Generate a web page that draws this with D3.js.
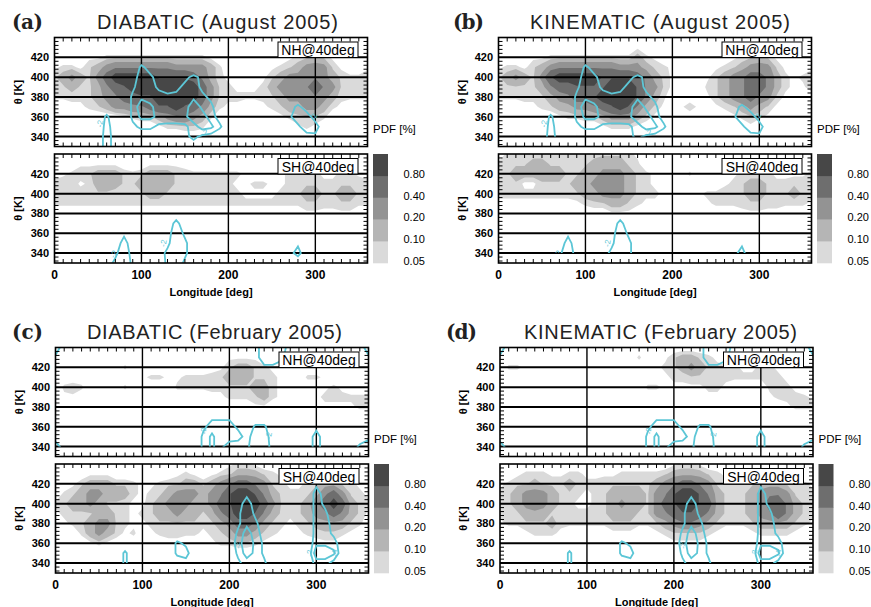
<!DOCTYPE html>
<html>
<head>
<meta charset="utf-8">
<script src="https://cdn.jsdelivr.net/npm/d3@7"></script>
<style>
  body { margin: 0; background: #fff; }
  svg { display: block; }
  .tick-label { font-family: 'Liberation Sans', Arial, sans-serif; font-weight: bold; font-size: 11px; fill: #000; }
  .axis-title { font-family: 'Liberation Sans', Arial, sans-serif; font-weight: bold; font-size: 11px; fill: #000; }
  .box-label { font-family: 'Liberation Sans', Arial, sans-serif; font-size: 14px; fill: #000; }
  .legend-text { font-family: 'Liberation Sans', Arial, sans-serif; font-size: 11px; fill: #000; }
  .panel-tag { font-family: 'DejaVu Serif', serif; font-weight: bold; font-size: 20px; fill: #222; }
  .panel-title { font-family: 'Liberation Sans', Arial, sans-serif; font-size: 20px; fill: #222; }
  .q-label { font-family: 'Liberation Sans', Arial, sans-serif; font-size: 8px; fill: #5cc6d6; }
</style>
</head>
<body>
<svg id="chart" width="871" height="607"></svg>
<script>
// grid axes: rows run from THETA[0] (top) downwards, columns are LON
const LON = d3.range(0, 361, 10);
const THETA = [440, 430, 420, 410, 400, 390, 380, 370, 360, 350, 340, 330];
const X_TICKS = [0, 100, 200, 300];
const Y_TICKS = [340, 360, 380, 400, 420];

// PDF [%]: one digit per grid cell, digit -> value
const PDF_CODES = [0, 0.035, 0.065, 0.09, 0.14, 0.25, 0.35, 0.55, 0.75, 1.1];
const PDF_LEVELS = [0.05, 0.1, 0.2, 0.4, 0.8];
const PDF_LABELS = ['0.05', '0.10', '0.20', '0.40', '0.80'];
const GRAY_COLORS = ['#dadada', '#b5b5b5', '#939393', '#6e6e6e', '#474747'];

// heating rate [K/day]: hex digit h -> -h/2
const HEATING_LEVELS = [-2, -4];

const AUG_DIA_NH = [
  "0000000000 0000000000 0000000000 0000000",
  "0000000000 0000000000 0000000000 0000000",
  "0000112222 2222222210 0000000123 4310000",
  "1221345666 6666555542 0000012345 5531001",
  "3454357999 9988887642 1000134555 6543223",
  "3343346789 9999999753 2111245556 8653223",
  "2222345677 8899999753 2222234555 6542222",
  "0011234556 6788987642 1100123445 5421000",
  "0000000012 3345665420 0000001233 3200000",
  "0000000000 0012233200 0000000012 1000000",
  "0000000000 0000000000 0000000000 0000000",
  "0000000000 0000000000 0000000000 0000000"
];
const AUG_DIA_SH = [
  "0000000000 0000000000 0000000000 0000000",
  "0001111100 0111110000 0000000000 0000000",
  "0123344432 3444322222 2210001222 2112210",
  "3331244433 4444333222 2112211233 3223333",
  "3333333223 3443333333 3211112334 4334433",
  "2222222222 2222222222 2222222223 3223322",
  "0000000000 0000000000 0000000001 1111100",
  "0000000000 0000000000 0000000000 0000000",
  "0000000000 0000000000 0000000000 0000000",
  "0000000000 0000000000 0000000000 0000000",
  "0000000000 0000000000 0000000000 0000000",
  "0000000000 0000000000 0000000000 0000000"
];
const AUG_KIN_NH = [
  "0000000000 0000000000 0000000000 0000000",
  "0000000000 0000001000 0000000000 0000000",
  "0000112222 2222224210 0000000123 4310000",
  "1221345666 6666555432 1000012345 5531001",
  "3454358999 9988887643 1000134567 7642123",
  "3333346778 8889998653 1000234567 7642113",
  "2222234567 7899998642 0000134567 6531000",
  "0001123445 5678986431 0131012345 4310000",
  "0000000122 3345554310 0000000123 2100000",
  "0000000000 0012221000 0000000001 0000000",
  "0000000000 0000000000 0000000000 0000000",
  "0000000000 0000000000 0000000000 0000000"
];
const AUG_KIN_SH = [
  "0222222222 2233321000 0000000000 0000000",
  "2333443333 3444432000 0000000000 0000001",
  "3344444433 4455543210 0020000122 2211112",
  "3331133334 4555543210 0000001234 4322333",
  "2222222223 4455543221 1111223334 4333432",
  "1111111111 2334432111 1111122223 3222221",
  "0000000000 0001110000 0000000011 1110000",
  "0000000000 0000000000 0000000000 0000000",
  "0000000000 0000000000 0000000000 0000000",
  "0000000000 0000000000 0000000000 0000000",
  "0000000000 0000000000 0000000000 0000000",
  "0000000000 0000000000 0000000000 0000000"
];
const FEB_DIA_NH = [
  "0000000000 0000000000 0000000000 0000000",
  "0000000000 0000000000 1111000000 0000000",
  "0000000020 0000000001 3443210000 0000000",
  "0000000000 1221122233 4443321002 2100000",
  "0232000020 0000222222 3334421000 0121000",
  "0110000000 0000000011 2223421000 1222222",
  "0000000000 0000000000 0001100000 0111122",
  "0000000000 0000000000 0000000000 0000000",
  "0000000000 0000000000 0000000000 0000000",
  "0000000000 0000000000 0000000000 0000000",
  "0000000000 0000000000 0000000000 0000000",
  "0000000000 0000000000 0000000000 0000000"
];
const FEB_DIA_SH = [
  "0000000000 0000000000 1221000000 0000000",
  "0000111000 0000121012 3444321000 1221000",
  "0013444332 1123344345 6776532112 3443210",
  "0234554442 1234555456 8998643223 4675321",
  "2344543321 1345554457 8999753234 6797432",
  "1233344321 2344544346 7998643234 5676431",
  "0123455321 1233333234 5776432123 4444320",
  "0002454312 0122222123 4554321012 2332100",
  "0000121000 0001100012 2332100000 1110000",
  "0000000000 0000000000 0000000000 0000000",
  "0000000000 0000000000 0000000000 0000000",
  "0000000000 0000000000 0000000000 0000000"
];
const FEB_KIN_NH = [
  "0000000000 0000000000 0000000000 0000000",
  "0000000000 0000002001 3443210000 0000000",
  "0221000000 0000000012 3454322211 2210000",
  "0000000000 0000000001 2233322222 2321000",
  "0000000000 0000000221 1111221000 0222100",
  "0000000000 0000000000 0000110000 0122221",
  "0000000000 0000000000 0000000000 0001222",
  "0000000000 0000000000 0000000000 0000000",
  "0000000000 0000000000 0000000000 0000000",
  "0000000000 0000000000 0000000000 0000000",
  "0000000000 0000000000 0000000000 0000000",
  "0000000000 0000000000 0000000000 0000000"
];
const FEB_KIN_SH = [
  "0000000000 0000000000 1221000000 0000000",
  "0012221122 1111222223 4444321000 1221000",
  "1233433343 2233333345 6776532223 4443221",
  "2345554332 1234444356 8998643234 5665322",
  "2345654321 1234544357 8998743234 5786432",
  "2334443322 2234443356 7887643234 5686432",
  "1223334222 2223332234 5665432223 4444321",
  "0001222100 0001110012 3333210001 2222100",
  "0000000000 0000000000 1111000000 0000000",
  "0000000000 0000000000 0000000000 0000000",
  "0000000000 0000000000 0000000000 0000000",
  "0000000000 0000000000 0000000000 0000000"
];

// heating rate, August (rows 440..330) and February (rows 440..340)
const AUG_NH_Q = [
  "0000000000 0000000000 0000000000 0000000",
  "0000000000 0000000000 0000000000 0000000",
  "0000000000 0000000000 0000000000 0000000",
  "0000000000 5200000000 0000000000 0000000",
  "0000000002 6520035300 0000000000 0000000",
  "0000000003 7632356310 0000000000 0000000",
  "0000000005 7665567530 0000000000 0000000",
  "0000000005 b96666b751 0000000252 0000000",
  "0000005005 997667ba62 0000000376 2000000",
  "0000006103 5533336a95 0000000037 6100000",
  "0000007101 1100035320 0000000002 3000000",
  "0000007100 0000002000 0000000000 0000000"
];
const AUG_SH_Q = [
  "0000000000 0000000000 0000000000 0000000",
  "0000000000 0000000000 0000000000 0000000",
  "0000000000 0000000000 0000000000 0000000",
  "0000000000 0000000000 0000000000 0000000",
  "0000000000 0000000000 0000000000 0000000",
  "0000000000 0000000000 0000000000 0000000",
  "0000000000 0000000000 0000000000 0000000",
  "0000000000 0000600000 0000000000 0000000",
  "0000000030 0002730000 0000000000 0000000",
  "0000000161 0013751000 0000000030 0000000",
  "0000000372 0025751000 0000000260 0000000",
  "0000002573 0015730000 0000000000 0000000"
];
const FEB_NH_Q = [
  "7100000000 0000000000 0002776200 0000017",
  "3000000000 0000000000 0002775100 0000003",
  "0000000000 0000000000 0000332000 0000000",
  "0000000000 0000000000 0000000000 0000000",
  "0000000000 0000000000 0000000000 0000000",
  "0000000000 0000000000 0000000000 0000000",
  "0000000000 0000000000 0000000000 0000000",
  "0000000000 0000000033 3000000000 0000000",
  "0000000000 0000000366 6305500000 2000000",
  "2000000000 0000000595 6627620000 7000013",
  "6200000000 0000000595 2137720000 7000156"
];
const FEB_SH_Q = [
  "0000000000 0000000000 0000000000 0000000",
  "0000000000 0000000000 0000000000 0000000",
  "0000000000 0000000000 0000000000 3000000",
  "0000000000 0000000000 0030000000 6200000",
  "0000000000 0000000000 0262000000 6300000",
  "0000000000 0000000000 0373000000 6510000",
  "0000000000 0000000000 0375100000 6620000",
  "0000000000 0000000000 05a6200000 6630000",
  "0000000000 0000530000 16b7300000 7761000",
  "0000000050 0000560000 05a7300000 bb90000",
  "0000000050 0000120000 0366500000 6620000"
];

// contour labels: [lon, theta, angle, text]
const AUG_NH_QLABELS = [[52, 353, -80, '-2'], [172, 344, -20, '-2'], [298, 360, -70, '-2']];
const AUG_SH_QLABELS = [[68, 339, -60, '-2'], [125, 350, -80, '-2']];
const FEB_NH_QLABELS = [[170, 356, -90, '-2'], [245, 351, -80, '-2']];
const FEB_SH_QLABELS = [[209, 358, -90, '-2'], [292, 350, -90, '-2'], [320, 350, -90, '-4']];

function decode(rows, lookup) {
  const values = [];
  rows.forEach(r => r.replace(/\s/g, '').split('').forEach(ch => values.push(lookup(ch))));
  return values;
}

class ContourPanel {

  constructor(_config) {
    this.config = {
      parentElement: _config.parentElement,
      id: _config.id,
      left: _config.left,
      top: _config.top,
      width: _config.width || 313,
      height: _config.height || 109,
      gap: _config.gap || 116.5,
      tag: _config.tag,
      tagX: _config.tagX,
      title: _config.title,
      titleX: _config.titleX,
      titleLength: _config.titleLength,
      qBottom: _config.qBottom || 340
    };
    this.data = _config.data;
    this.initVis();
  }

  initVis() {
    let vis = this;
    vis.svg = d3.select(vis.config.parentElement);

    vis.x = d3.scaleLinear().domain([0, 360]).range([0, vis.config.width]);
    vis.y = d3.scaleLinear().domain([330, 440]).range([vis.config.height, 0]);

    vis.root = vis.svg.append('g')
      .attr('transform', `translate(${vis.config.left},${vis.config.top})`);

    vis.root.append('text')
      .attr('class', 'panel-tag')
      .attr('x', vis.config.tagX - vis.config.left)
      .attr('y', -8.5)
      .attr('textLength', 31)
      .text(vis.config.tag);

    vis.root.append('text')
      .attr('class', 'panel-title')
      .attr('x', vis.config.titleX - vis.config.left)
      .attr('y', -8.5)
      .attr('text-anchor', 'middle')
      .attr('textLength', vis.config.titleLength)
      .attr('lengthAdjust', 'spacing')
      .text(vis.config.title);

    vis.render();
  }

  gridPath() {
    let vis = this;
    const top = THETA[0];
    const step = THETA[0] - THETA[1];
    const lonStep = LON[1] - LON[0];
    return d3.geoPath(d3.geoTransform({
      point: function(gx, gy) {
        this.stream.point(vis.x(LON[0] + (gx - 0.5) * lonStep), vis.y(top - (gy - 0.5) * step));
      }
    }));
  }

  render() {
    let vis = this;
    vis.drawBox(0, vis.data.nh, vis.data.qNH, vis.data.lNH, 'NH@40deg', 'nh');
    vis.drawBox(vis.config.gap, vis.data.sh, vis.data.qSH, vis.data.lSH, 'SH@40deg', 'sh');
    vis.legend();
    vis.axes();
  }

  drawBox(offset, pdfRows, qRows, qLabels, label, key) {
    let vis = this;
    const w = vis.config.width, h = vis.config.height;
    const g = vis.root.append('g').attr('transform', `translate(0,${offset})`);
    const clipId = `clip-${vis.config.id}-${key}`;
    const qClipId = `qclip-${vis.config.id}-${key}`;

    const defs = g.append('defs');
    defs.append('clipPath').attr('id', clipId)
      .append('rect').attr('width', w).attr('height', h);
    defs.append('clipPath').attr('id', qClipId)
      .append('rect').attr('width', w).attr('height', vis.y(vis.config.qBottom));

    // PDF shading
    const pdf = decode(pdfRows, ch => PDF_CODES[+ch]);
    const pdfContours = d3.contours()
      .size([LON.length, pdfRows.length])
      .thresholds(PDF_LEVELS)(pdf);

    g.append('g')
      .attr('clip-path', `url(#${clipId})`)
      .selectAll('path')
      .data(pdfContours)
      .join('path')
      .attr('d', vis.gridPath())
      .attr('fill', (d, i) => GRAY_COLORS[i])
      .attr('stroke', 'none');

    // grid lines
    g.append('g').selectAll('line.h')
      .data(Y_TICKS)
      .join('line')
      .attr('x1', 0).attr('x2', w)
      .attr('y1', d => vis.y(d)).attr('y2', d => vis.y(d))
      .attr('stroke', '#000').attr('stroke-width', 2);

    g.append('g').selectAll('line.v')
      .data(X_TICKS.filter(d => d > 0))
      .join('line')
      .attr('x1', d => vis.x(d)).attr('x2', d => vis.x(d))
      .attr('y1', 0).attr('y2', h)
      .attr('stroke', '#000').attr('stroke-width', 1.4);

    // heating rate contours
    const q = decode(qRows, ch => -parseInt(ch, 16) / 2);
    const qContours = d3.contours()
      .size([LON.length, qRows.length])
      .thresholds(HEATING_LEVELS.map(v => -v))(q.map(v => -v));

    const qg = g.append('g').attr('clip-path', `url(#${qClipId})`);
    qg.selectAll('path')
      .data(qContours)
      .join('path')
      .attr('d', vis.gridPath())
      .attr('fill', 'none')
      .attr('stroke', '#5cc6d6')
      .attr('stroke-width', 1.8)
      .attr('stroke-linejoin', 'miter');

    qg.selectAll('text')
      .data(qLabels)
      .join('text')
      .attr('class', 'q-label')
      .attr('text-anchor', 'middle')
      .attr('transform', d => `translate(${vis.x(d[0])},${vis.y(d[1])}) rotate(${d[2]})`)
      .attr('dy', 3)
      .text(d => d[3]);

    // minor ticks
    const xMinor = d3.range(10, 360, 10).filter(d => d % 100 !== 0);
    const yMinor = d3.range(332, 440, 4).filter(d => !Y_TICKS.includes(d));
    const ticks = g.append('g').attr('stroke', '#000').attr('stroke-width', 1);
    xMinor.forEach(d => {
      ticks.append('line').attr('x1', vis.x(d)).attr('x2', vis.x(d)).attr('y1', 0).attr('y2', 4);
      ticks.append('line').attr('x1', vis.x(d)).attr('x2', vis.x(d)).attr('y1', h).attr('y2', h - 4);
    });
    yMinor.forEach(d => {
      ticks.append('line').attr('x1', 0).attr('x2', 4).attr('y1', vis.y(d)).attr('y2', vis.y(d));
      ticks.append('line').attr('x1', w).attr('x2', w - 4).attr('y1', vis.y(d)).attr('y2', vis.y(d));
    });

    g.append('rect')
      .attr('width', w).attr('height', h)
      .attr('fill', 'none')
      .attr('stroke', '#000')
      .attr('stroke-width', 1.6);

    // y tick labels
    g.append('g').selectAll('text')
      .data(Y_TICKS)
      .join('text')
      .attr('class', 'tick-label')
      .attr('x', -5.5)
      .attr('y', d => vis.y(d) + 4)
      .attr('text-anchor', 'end')
      .text(d => d);

    g.append('text')
      .attr('class', 'axis-title')
      .attr('transform', `translate(-33,${h / 2}) rotate(-90)`)
      .attr('text-anchor', 'middle')
      .text('\u03b8 [K]');

    // hemisphere label box
    g.append('rect')
      .attr('x', w - 89.5).attr('y', 4.5)
      .attr('width', 80).attr('height', 15.5)
      .attr('fill', '#fff')
      .attr('stroke', '#000')
      .attr('stroke-width', 1);

    g.append('text')
      .attr('class', 'box-label')
      .attr('x', w - 49.5)
      .attr('y', 17.5)
      .attr('text-anchor', 'middle')
      .text(label);
  }

  axes() {
    let vis = this;
    const bottom = vis.config.gap + vis.config.height;

    vis.root.append('g').selectAll('text')
      .data(X_TICKS)
      .join('text')
      .attr('class', 'tick-label')
      .style('font-size', '12px')
      .attr('x', d => vis.x(d))
      .attr('y', bottom + 15.5)
      .attr('text-anchor', 'middle')
      .text(d => d);

    vis.root.append('text')
      .attr('class', 'axis-title')
      .attr('x', vis.config.width / 2)
      .attr('y', bottom + 33)
      .attr('text-anchor', 'middle')
      .text('Longitude [deg]');
  }

  legend() {
    let vis = this;
    const cx = vis.config.width + 5.5;
    const top = vis.config.gap;
    const band = vis.config.height / PDF_LEVELS.length;

    vis.root.append('text')
      .attr('class', 'legend-text')
      .style('font-size', '11.5px')
      .attr('x', cx)
      .attr('y', 95.5)
      .text('PDF [%]');

    // lightest band at the bottom
    vis.root.append('g').selectAll('rect')
      .data(GRAY_COLORS)
      .join('rect')
      .attr('x', cx)
      .attr('y', (d, i) => top + (PDF_LEVELS.length - 1 - i) * band)
      .attr('width', 15)
      .attr('height', band + 0.3)
      .attr('fill', d => d);

    vis.root.append('g').selectAll('text')
      .data(PDF_LABELS)
      .join('text')
      .attr('class', 'legend-text')
      .attr('x', cx + 30.5)
      .attr('y', (d, i) => top + (PDF_LEVELS.length - i) * band + 2)
      .text(d => d);
  }
}

new ContourPanel({
  parentElement: '#chart', id: 'a', left: 54.5, top: 37.5,
  tag: '(a)', tagX: 12, title: 'DIABATIC (August 2005)', titleX: 217.5, titleLength: 241,
  qBottom: 330,
  data: { nh: AUG_DIA_NH, sh: AUG_DIA_SH, qNH: AUG_NH_Q, qSH: AUG_SH_Q, lNH: AUG_NH_QLABELS, lSH: AUG_SH_QLABELS }
});
new ContourPanel({
  parentElement: '#chart', id: 'b', left: 498.5, top: 37.5,
  tag: '(b)', tagX: 453, title: 'KINEMATIC (August 2005)', titleX: 660, titleLength: 260,
  qBottom: 340,
  data: { nh: AUG_KIN_NH, sh: AUG_KIN_SH, qNH: AUG_NH_Q, qSH: AUG_SH_Q, lNH: AUG_NH_QLABELS, lSH: AUG_SH_QLABELS }
});
new ContourPanel({
  parentElement: '#chart', id: 'c', left: 55.5, top: 347.5,
  tag: '(c)', tagX: 12, title: 'DIABATIC (February 2005)', titleX: 214.5, titleLength: 255,
  qBottom: 340,
  data: { nh: FEB_DIA_NH, sh: FEB_DIA_SH, qNH: FEB_NH_Q, qSH: FEB_SH_Q, lNH: FEB_NH_QLABELS, lSH: FEB_SH_QLABELS }
});
new ContourPanel({
  parentElement: '#chart', id: 'd', left: 500, top: 347.5,
  tag: '(d)', tagX: 446, title: 'KINEMATIC (February 2005)', titleX: 660.5, titleLength: 273,
  qBottom: 340,
  data: { nh: FEB_KIN_NH, sh: FEB_KIN_SH, qNH: FEB_NH_Q, qSH: FEB_SH_Q, lNH: FEB_NH_QLABELS, lSH: FEB_SH_QLABELS }
});
</script>
</body>
</html>
